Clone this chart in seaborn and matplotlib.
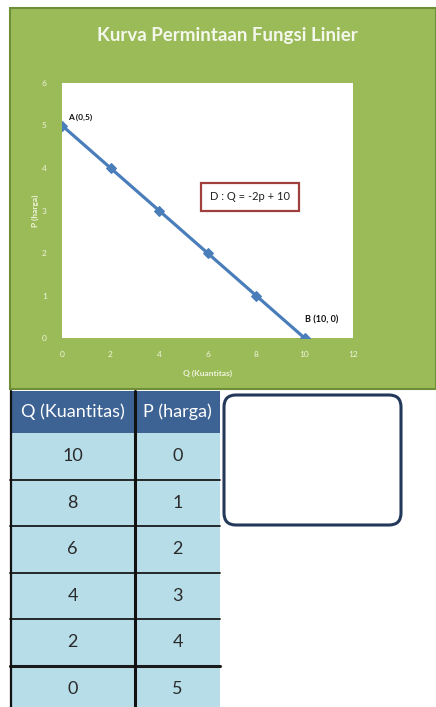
import matplotlib
matplotlib.use("Agg")
import matplotlib.pyplot as plt
from matplotlib.patches import Rectangle, FancyBboxPatch
import pandas as pd
import seaborn as sns

# Demand schedule: D : Q = -2p + 10
quantity = [10, 8, 6, 4, 2, 0]
price = [0, 1, 2, 3, 4, 5]
x_ticks = [0, 2, 4, 6, 8, 10, 12]
y_ticks = [0, 1, 2, 3, 4, 5, 6]
table_headers = ["Q (Kuantitas)", "P (harga)"]

title = "Kurva Permintaan Fungsi Linier"
equation = "D : Q = -2p + 10"
label_a = "A (0,5)"
label_b = "B (10, 0)"

sns.set_theme(style="white")
plt.rcParams["font.family"] = ["Lato", "DejaVu Sans"]

W, H = 436, 707
fig = plt.figure(figsize=(W / 100, H / 100), dpi=100)
fig.patch.set_facecolor("white")

# Full-figure pixel canvas for the panel and the table
bg = fig.add_axes([0, 0, 1, 1])
bg.set_xlim(0, W)
bg.set_ylim(H, 0)
bg.axis("off")

green = "#9BBB59"
bg.add_patch(Rectangle((10, 8), W - 10, 381, facecolor=green,
                       edgecolor="#6E8F38", linewidth=1.5))
bg.text(227, 36, title, ha="center", va="center", color="#F4F7EC",
        fontsize=13.5, fontweight="bold")

# Chart area
ax = fig.add_axes([62 / W, 1 - 338 / H, 291 / W, 255 / H])
ax.set_facecolor("white")
df = pd.DataFrame({"Q": quantity, "P": price})
sns.lineplot(data=df, x="Q", y="P", ax=ax, color="#4A7EBB", linewidth=2.3,
             marker="D", markersize=5, markeredgecolor="#4A7EBB",
             sort=False)
ax.set_xlim(0, 12)
ax.set_ylim(0, 6)
ax.set_xticks(x_ticks)
ax.set_yticks(y_ticks)
for s in ax.spines.values():
    s.set_visible(False)
ax.tick_params(axis="both", length=0, labelsize=6, colors="#F1F4DC")
ax.tick_params(axis="x", pad=9)
ax.tick_params(axis="y", pad=11)
ax.set_xlabel("Q (Kuantitas)", fontsize=6, color="#F1F4DC",
              fontweight="bold", labelpad=9)
ax.set_ylabel("P (harga)", fontsize=6, color="#F1F4DC",
              fontweight="bold", labelpad=2)

ax.annotate(label_a, (quantity[-1], price[-1]), xytext=(4, 6),
            textcoords="offset points", fontsize=6, fontweight="bold",
            color="#111111", ha="left", va="center")
ax.annotate(label_b, (quantity[0], price[0]), xytext=(0, 13),
            textcoords="offset points", fontsize=6.5, fontweight="bold",
            color="#111111", ha="left", va="center")
ax.text(0.646, 0.553, equation, transform=ax.transAxes, ha="center",
        va="center", fontsize=8, color="#222222",
        bbox=dict(boxstyle="square,pad=0.8", facecolor="white",
                  edgecolor="#A0403E", linewidth=1.6))

# Table of the demand schedule
header_top, header_h, row_h = 391, 42, 46.5
col_x = [10, 135, 220]
bg.add_patch(Rectangle((col_x[0], header_top), col_x[2] - col_x[0], header_h,
                       facecolor="#3D6394", edgecolor="none"))
for i, h in enumerate(table_headers):
    bg.text((col_x[i] + col_x[i + 1]) / 2, header_top + header_h / 2, h,
            ha="center", va="center", color="white", fontsize=13)
body_top = header_top + header_h
bg.add_patch(Rectangle((col_x[0], body_top), col_x[2] - col_x[0],
                       H - body_top, facecolor="#B7DDE8", edgecolor="none"))
for r, (q, p) in enumerate(zip(quantity, price)):
    yc = body_top + row_h * (r + 0.5)
    bg.text((col_x[0] + col_x[1]) / 2, yc, str(q), ha="center",
            va="center", color="#2A2A2A", fontsize=13)
    bg.text((col_x[1] + col_x[2]) / 2, yc, str(p), ha="center",
            va="center", color="#2A2A2A", fontsize=13)
    if r > 0:
        y = body_top + row_h * r
        bg.plot([col_x[0], col_x[2]], [y, y], color="#1A1A1A",
                linewidth=2.2 if r == len(quantity) - 1 else 1.3)
bg.plot([col_x[1], col_x[1]], [header_top, H], color="#111111", linewidth=2.2)
bg.plot([col_x[0] + 0.5, col_x[0] + 0.5], [header_top, H], color="#111111",
        linewidth=1.6)

# Empty rounded text box
bg.add_patch(FancyBboxPatch((224, 395), 177, 130,
                            boxstyle="round,pad=0,rounding_size=12",
                            facecolor="white", edgecolor="#23395A",
                            linewidth=2.2))

fig.savefig("out.png", dpi=100)
